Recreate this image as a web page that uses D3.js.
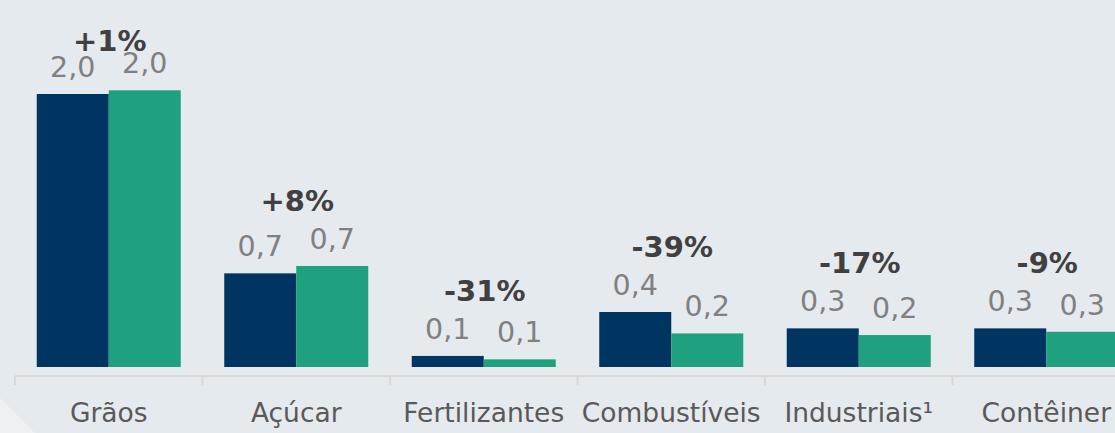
<!DOCTYPE html>
<html>
<head>
  <meta charset="utf-8">
  <title>Volumes por produto</title>
  <script src="https://d3js.org/d3.v7.min.js"></script>
  <style>
    body {
      margin: 0;
      background: #e5eaee;
    }
    svg { display: block; }
    svg text { font-family: "DejaVu Sans", Verdana, sans-serif; }
    .val { fill: #808080; font-size: 28.5px; text-anchor: middle; }
    .pct { fill: #404040; font-size: 29px; font-weight: bold; text-anchor: middle; }
    .cat { fill: #595959; font-size: 26.5px; }
  </style>
</head>
<body>
  <svg width="1115" height="433"></svg>
  <script>
    // data
    var categories = ["Grãos", "Açúcar", "Fertilizantes", "Combustíveis", "Industriais¹", "Contêiner"];
    var seriesA = [2.0, 0.686, 0.081, 0.403, 0.283, 0.283];   // navy bars
    var seriesB = [2.027, 0.74, 0.056, 0.246, 0.234, 0.258];  // green bars
    var changeLabels = ["+1%", "+8%", "-31%", "-39%", "-17%", "-9%"];

    var colors = ["#003461", "#1fa07f"];
    var fmt = function(v) { return d3.format(".1f")(v).replace(".", ","); };

    var svg = d3.select("svg");

    // light corner shape at bottom left
    svg.append("path")
        .attr("d", "M0,398 L35,433 L0,433 Z")
        .attr("fill", "#eef1f3");

    var baseY = 367, axisY = 376;

    var x = d3.scaleBand()
        .domain(categories)
        .range([15, 15 + 187.5 * categories.length])
        .padding(0);

    var inner = 144;
    var x1 = d3.scaleBand()
        .domain([0, 1])
        .range([0, inner]);

    var y = d3.scaleLinear()
        .domain([0, 2])
        .range([baseY, baseY - 273]);

    var rows = categories.map(function(c, i) {
      return { cat: c, vals: [seriesA[i], seriesB[i]], pct: changeLabels[i] };
    });

    var g = svg.selectAll(".grp")
        .data(rows)
      .enter().append("g")
        .attr("class", "grp")
        .attr("transform", function(d) {
          return "translate(" + (x(d.cat) + (x.bandwidth() - inner) / 2) + ",0)";
        });

    g.selectAll("rect")
        .data(function(d) { return d.vals; })
      .enter().append("rect")
        .attr("x", function(d, i) { return x1(i); })
        .attr("y", function(d) { return y(d); })
        .attr("width", x1.bandwidth())
        .attr("height", function(d) { return baseY - y(d); })
        .attr("fill", function(d, i) { return colors[i]; });

    g.selectAll(".val")
        .data(function(d) { return d.vals; })
      .enter().append("text")
        .attr("class", "val")
        .attr("x", function(d, i) { return x1(i) + x1.bandwidth() / 2; })
        .attr("y", function(d) { return y(d) - 17; })
        .text(fmt);

    g.append("text")
        .attr("class", "pct")
        .attr("x", inner / 2 + 1)
        .attr("y", function(d) { return Math.max(y(d3.max(d.vals)) - 55, 51); })
        .text(function(d) { return d.pct; });

    // axis line with boundary ticks
    var axis = svg.append("g")
        .attr("transform", "translate(0," + axisY + ")")
        .call(d3.axisBottom(x).tickSize(0).tickPadding(0))
        .attr("font-family", null)
        .attr("font-size", null);
    axis.select(".domain").remove();
    axis.selectAll("text")
        .attr("class", "cat")
        .attr("fill", null)
        .attr("y", 46)
        .attr("dy", 0);

    svg.append("line")
        .attr("x1", x.range()[0]).attr("x2", x.range()[1])
        .attr("y1", axisY).attr("y2", axisY)
        .attr("stroke", "#d6d8da").attr("stroke-width", 2);

    svg.selectAll(".btick")
        .data(categories.concat([null]))
      .enter().append("line")
        .attr("class", "btick")
        .attr("x1", function(d, i) { return x.range()[0] + i * x.step(); })
        .attr("x2", function(d, i) { return x.range()[0] + i * x.step(); })
        .attr("y1", axisY).attr("y2", axisY + 9)
        .attr("stroke", "#d6d8da").attr("stroke-width", 2);
  </script>
</body>
</html>
